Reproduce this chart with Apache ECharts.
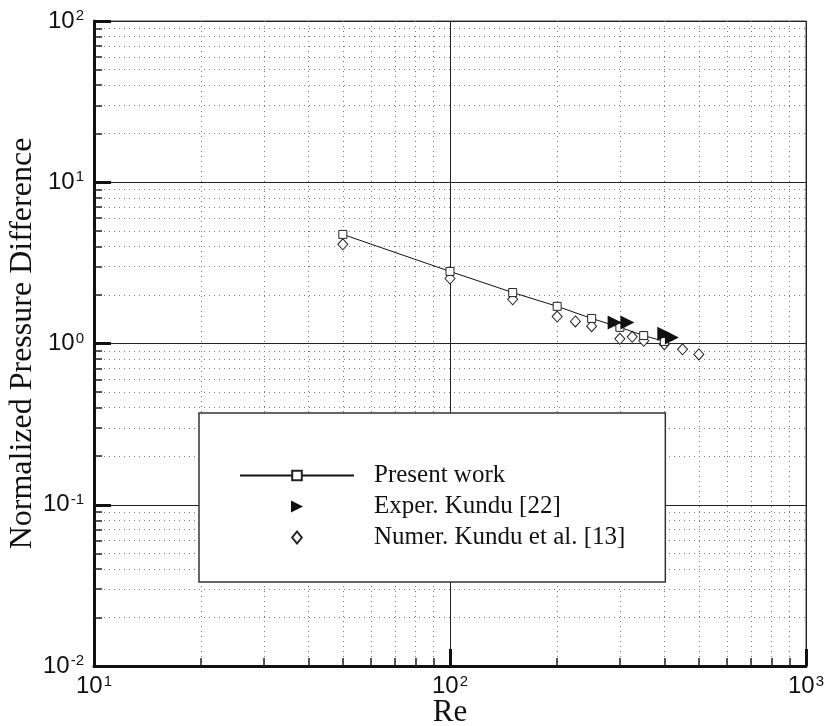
<!DOCTYPE html>
<html>
<head>
<meta charset="utf-8">
<script src="https://cdn.jsdelivr.net/npm/echarts@6/dist/echarts.min.js"></script>
<style>html,body{margin:0;padding:0;background:#fff}#c{width:826px;height:726px}</style>
</head>
<body>
<div id="c"></div>
<script>
// ---- data ----
const presentRe = [50, 100, 150, 200, 250, 300, 350, 400];
const presentVal = [4.75, 2.80, 2.07, 1.70, 1.43, 1.26, 1.12, 1.03];
const experRe = [290, 315, 400, 420];
const experVal = [1.35, 1.35, 1.15, 1.09];
const numerRe = [50, 100, 150, 200, 225, 250, 300, 325, 350, 400, 450, 500];
const numerVal = [4.12, 2.53, 1.88, 1.47, 1.37, 1.28, 1.07, 1.10, 1.04, 0.99, 0.92, 0.855];
const xMinor = [20, 30, 40, 50, 60, 70, 80, 90, 200, 300, 400, 500, 600, 700, 800, 900];
const yMinor = [0.02,0.03,0.04,0.05,0.06,0.07,0.08,0.09,0.2,0.3,0.4,0.5,0.6,0.7,0.8,0.9,2,3,4,5,6,7,8,9,20,30,40,50,60,70,80,90];
const seriesNames = ['Present work', 'Exper. Kundu [22]', 'Numer. Kundu et al. [13]'];
const xTitle = 'Re';
const yTitle = 'Normalized Pressure Difference';

const zip = (a, b) => a.map((v, i) => [v, b[i]]);
const sans = 'Liberation Sans';
const serif = 'Liberation Serif';
const triPath = 'path://M0,0L10,5L0,10Z';
const diaPath = 'path://M4,0L8,5L4,10L0,5Z';
const powLabel = v => '{b|10}{s|' + Math.round(Math.log10(v)) + '}';
const rich = {
  b: { fontSize: 24, fontFamily: sans, color: '#111' },
  s: { fontSize: 15, fontFamily: sans, color: '#111', verticalAlign: 'top', padding: [0, 0, 10, 1] }
};

const majorAxisCommon = {
  type: 'log', logBase: 10,
  axisLine: { show: true, lineStyle: { color: '#111', width: 3 } },
  axisTick: { show: true, inside: true, length: 17, lineStyle: { color: '#111', width: 3 } },
  splitLine: { show: true, lineStyle: { color: '#222', width: 1 } },
  axisLabel: { formatter: powLabel, rich: rich, margin: 10 }
};
const minorAxisCommon = {
  type: 'log', logBase: 10,
  axisLine: { show: false },
  axisTick: { show: true, inside: true, length: 8, lineStyle: { color: '#222', width: 1.5 } },
  splitLine: { show: true, lineStyle: { color: '#777', width: 1, type: [1, 4] } },
  axisLabel: { show: false }
};

const chart = echarts.init(document.getElementById('c'), null, { renderer: 'canvas' });
chart.setOption({
  animation: false,
  backgroundColor: '#fff',
  grid: { left: 94, right: 20, top: 21, bottom: 60, containLabel: false, outerBoundsMode: 'none',
          show: true, borderColor: '#444', borderWidth: 1, backgroundColor: 'transparent' },
  xAxis: [
    Object.assign({}, majorAxisCommon, {
      min: 10, max: 1000, position: 'bottom',
      name: xTitle, nameLocation: 'middle', nameGap: 31, nameMoveOverlap: false,
      nameTextStyle: { fontFamily: serif, fontSize: 31, color: '#111' },
      axisLabel: { formatter: powLabel, rich: rich, margin: 8 }
    }),
    Object.assign({}, minorAxisCommon, {
      min: 10, max: 1000, position: 'bottom', offset: 0,
      axisTick: Object.assign({}, minorAxisCommon.axisTick, { customValues: xMinor })
    })
  ],
  yAxis: [
    Object.assign({}, majorAxisCommon, {
      min: 0.01, max: 100, position: 'left',
      name: yTitle, nameLocation: 'middle', nameGap: 55, nameMoveOverlap: false,
      nameTextStyle: { fontFamily: serif, fontSize: 32, color: '#111' }
    }),
    Object.assign({}, minorAxisCommon, {
      min: 0.01, max: 100, position: 'left', offset: 0,
      axisTick: Object.assign({}, minorAxisCommon.axisTick, { customValues: yMinor })
    })
  ],
  legend: {
    orient: 'vertical', left: 199, top: 413,
    padding: [50, 40, 32, 40],
    itemWidth: 114, itemHeight: 12, itemGap: 6,
    borderColor: '#333', borderWidth: 1.5, backgroundColor: '#fff',
    textStyle: { fontFamily: serif, fontSize: 25, color: '#111', padding: [0, 0, 0, 15] },
    data: [
      { name: seriesNames[0] },
      { name: seriesNames[1], icon: triPath },
      { name: seriesNames[2], icon: diaPath }
    ]
  },
  series: [
    {
      name: seriesNames[0], type: 'line', data: zip(presentRe, presentVal),
      symbol: 'rect', symbolSize: 8,
      itemStyle: { color: '#fff', borderColor: '#222', borderWidth: 1 },
      lineStyle: { color: '#111', width: 1 }, z: 3
    },
    {
      name: seriesNames[1], type: 'line', data: zip(experRe, experVal),
      symbol: triPath, symbolSize: 14,
      itemStyle: { color: '#111', borderColor: '#111', borderWidth: 0 },
      lineStyle: { width: 0, opacity: 0 }, z: 4
    },
    {
      name: seriesNames[2], type: 'line', data: zip(numerRe, numerVal),
      symbol: 'diamond', symbolSize: [10, 11],
      itemStyle: { color: '#fff', borderColor: '#222', borderWidth: 1 },
      lineStyle: { width: 0, opacity: 0 }, z: 2
    }
  ]
});
</script>
</body>
</html>
